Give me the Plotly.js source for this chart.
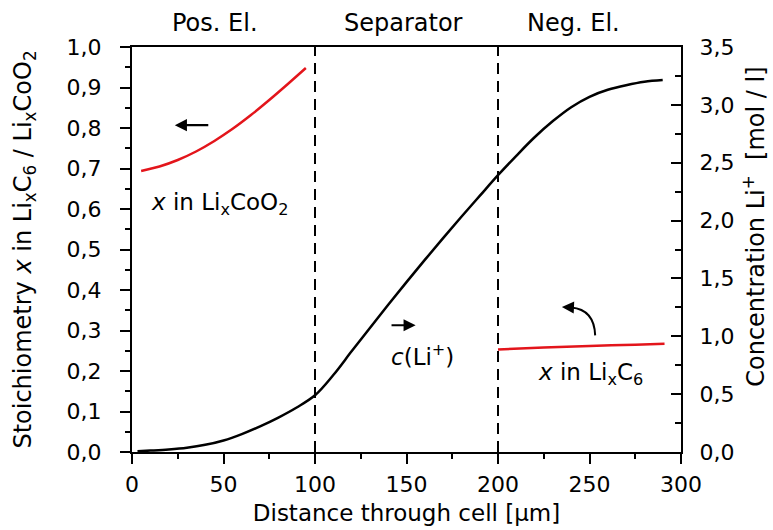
<!DOCTYPE html>
<html><head><meta charset="utf-8">
<script src="https://cdn.plot.ly/plotly-3.0.1.min.js"></script>
<style>html,body{margin:0;padding:0;background:#fff}</style>
</head><body><div id="chart" style="width:773px;height:530px"></div>
<script>
// Li+ concentration in electrolyte (right axis, mol/l)
const distConc = [3,10,20,30,40,50,60,70,80,90,100,110,120,130,140,150,160,170,180,190,200,210,220,230,240,250,260,270,280,290];
const concLi = [0.006,0.012,0.022,0.037,0.062,0.10,0.155,0.222,0.298,0.385,0.49,0.665,0.87,1.072,1.272,1.468,1.66,1.848,2.033,2.213,2.392,2.56,2.72,2.86,2.98,3.07,3.13,3.17,3.20,3.215];
// stoichiometry in positive electrode (left axis)
const distPos = [5,15,25,35,45,55,65,75,85,95];
const xLiCoO2 = [0.694,0.705,0.721,0.742,0.768,0.798,0.832,0.869,0.908,0.948];
// stoichiometry in negative electrode (left axis)
const distNeg = [200,225,250,275,291];
const xLiC6 = [0.253,0.258,0.262,0.265,0.267];
// region boundaries and labels
const regionBounds = [100,200];
const regionLabels = ['Pos. El.','Separator','Neg. El.'];
const regionLabelX = [45.4,148.6,241.5];

const FONT = 'DejaVu Sans';
const traces = [
  {x: distPos, y: xLiCoO2, mode:'lines', line:{color:'#e3151b', width:2.5, shape:'spline', smoothing:0.8}, xaxis:'x', yaxis:'y', hoverinfo:'skip'},
  {x: distNeg, y: xLiC6, mode:'lines', line:{color:'#e3151b', width:2.5, shape:'spline', smoothing:0.8}, xaxis:'x', yaxis:'y', hoverinfo:'skip'},
  {x: distConc, y: concLi, mode:'lines', line:{color:'#000', width:2.5, shape:'spline', smoothing:1}, xaxis:'x', yaxis:'y2', hoverinfo:'skip'}
];

const shapes = regionBounds.map(b => ({type:'line', xref:'x', yref:'paper', x0:b, x1:b, y0:0, y1:1, line:{color:'#000', width:2, dash:'11px,7px'}}));
shapes.push({type:'path', xref:'x', yref:'y', path:'M253.1,0.288 Q252.6,0.352 240,0.357', line:{color:'#000', width:2}});

const annotations = regionLabels.map((t,i) => ({text:t, x:regionLabelX[i], xref:'x', y:1.059, yref:'paper', showarrow:false, xanchor:'center', yanchor:'middle', font:{family:FONT, size:24, color:'#000'}}));
annotations.push(
  {text:'<i>x</i> in Li<sub>x</sub>CoO<sub>2</sub>', x:48, y:0.613, xref:'x', yref:'y', showarrow:false, font:{family:FONT, size:23, color:'#000'}},
  {text:'<i>c</i>(Li<sup>+</sup>)', x:158.5, y:0.239, xref:'x', yref:'y', showarrow:false, font:{family:FONT, size:23, color:'#000'}},
  {text:'<i>x</i> in Li<sub>x</sub>C<sub>6</sub>', x:250.7, y:0.193, xref:'x', yref:'y', showarrow:false, font:{family:FONT, size:23, color:'#000'}},
  {text:'', x:23.4, y:0.807, ax:42.5, ay:0.807, xref:'x', yref:'y', axref:'x', ayref:'y', showarrow:true, arrowhead:2, arrowsize:1.1, arrowwidth:2.2, arrowcolor:'#000'},
  {text:'', x:155, y:0.313, ax:141, ay:0.313, xref:'x', yref:'y', axref:'x', ayref:'y', showarrow:true, arrowhead:2, arrowsize:1.1, arrowwidth:2.2, arrowcolor:'#000'},
  {text:'', x:234.9, y:0.358, ax:240, ay:0.357, xref:'x', yref:'y', axref:'x', ayref:'y', showarrow:true, arrowhead:2, arrowsize:1.1, arrowwidth:2.2, arrowcolor:'#000'}
);

const layout = {
  width:773, height:530,
  margin:{l:132, r:92, t:47, b:78},
  paper_bgcolor:'#fff', plot_bgcolor:'#fff',
  separators:',.',
  showlegend:false,
  font:{family:FONT, color:'#000', size:22},
  xaxis:{range:[0,300], tick0:0, dtick:50, ticks:'outside', ticklen:10, tickwidth:2, tickcolor:'#000',
         showline:true, linecolor:'#000', linewidth:2, mirror:true, showgrid:false, zeroline:false,
         minor:{dtick:25, ticks:'outside', ticklen:5, tickwidth:2, tickcolor:'#000', showgrid:false},
         tickfont:{family:FONT, size:22}, ticklabelstandoff:2,
         title:{text:'Distance through cell [µm]', font:{family:FONT, size:23}, standoff:8}},
  yaxis:{range:[0,1], tick0:0, dtick:0.1, tickformat:'.1f', ticks:'outside', ticklen:10, tickwidth:2, tickcolor:'#000',
         showline:true, linecolor:'#000', linewidth:2, showgrid:false, zeroline:false,
         minor:{dtick:0.05, ticks:'outside', ticklen:5, tickwidth:2, tickcolor:'#000', showgrid:false},
         tickfont:{family:FONT, size:22}, ticklabelstandoff:14,
         title:{text:'Stoichiometry <i>x</i> in Li<sub>x</sub>C<sub>6</sub> / Li<sub>x</sub>CoO<sub>2</sub>', font:{family:FONT, size:24}, standoff:28}},
  yaxis2:{range:[0,3.5], tick0:0, dtick:0.5, tickformat:'.1f', overlaying:'y', side:'right', ticks:'inside', ticklen:10, tickwidth:2, tickcolor:'#000',
         showline:true, linecolor:'#000', linewidth:2, showgrid:false, zeroline:false,
         minor:{dtick:0.25, ticks:'inside', ticklen:6, tickwidth:2, tickcolor:'#000', showgrid:false},
         tickfont:{family:FONT, size:22}, ticklabelstandoff:12,
         title:{text:'&nbsp;&nbsp;&nbsp;&nbsp;&nbsp;&nbsp;Concentration Li<sup>+</sup>&nbsp; [mol / l]', font:{family:FONT, size:24}, standoff:14}},
  shapes: shapes,
  annotations: annotations
};
Plotly.newPlot('chart', traces, layout, {staticPlot:true, displayModeBar:false});
</script></body></html>
